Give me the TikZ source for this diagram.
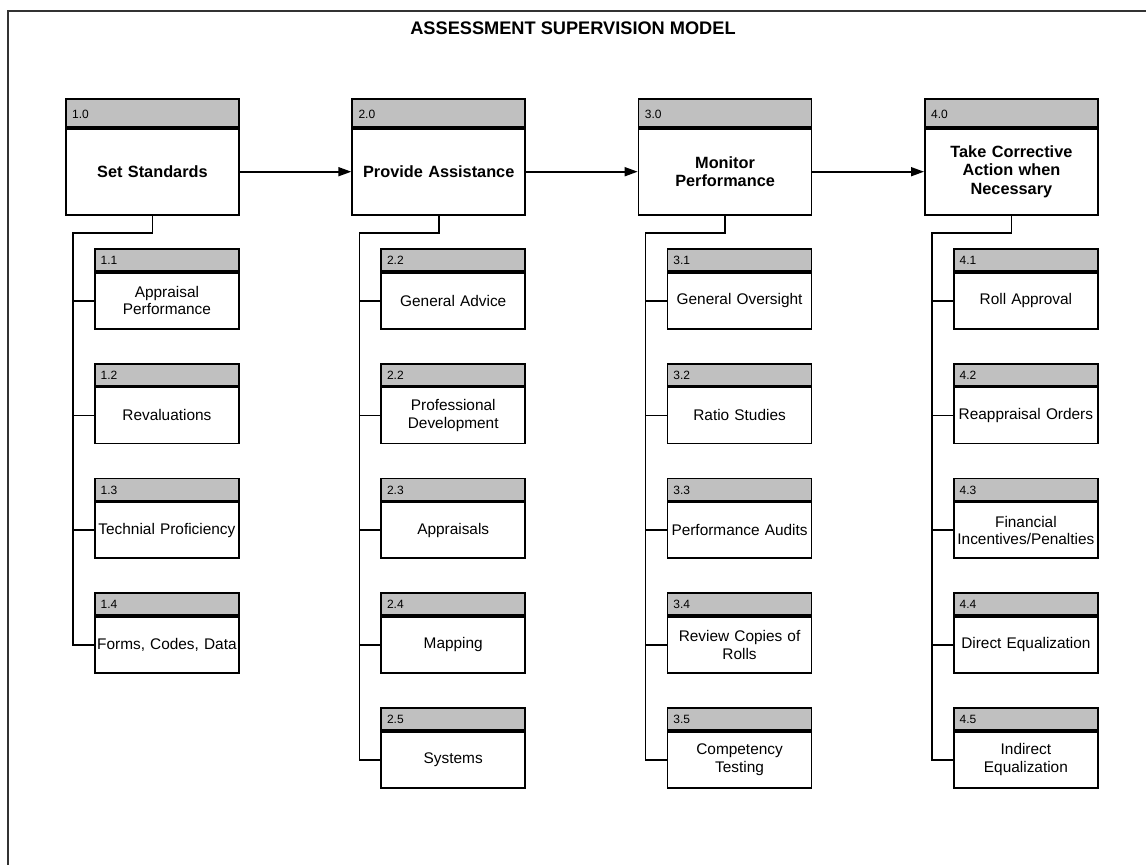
\documentclass[tikz,border=0pt]{standalone}
\usepackage{fontspec}
\setmainfont{Liberation Sans}
\usetikzlibrary{arrows.meta}
\definecolor{headgray}{HTML}{C0C0C0}
\definecolor{framegray}{HTML}{333333}
\tikzset{
  mainhdr/.style={draw=black,line width=1.8pt,fill=headgray,rectangle,inner sep=0pt,minimum width=173pt,minimum height=28pt,anchor=north west},
  mainbody/.style={draw=black,line width=1.8pt,fill=white,rectangle,inner sep=0pt,minimum width=173pt,minimum height=86pt,anchor=north,align=center,text width=165pt,font=\bfseries\fontsize{16.3}{18.6}\selectfont},
  chhdr/.style={draw=black,line width=1.8pt,fill=headgray,rectangle,inner sep=0pt,minimum width=144pt,minimum height=22pt,anchor=north west},
  chbody/.style={draw=black,line width=1.8pt,fill=white,rectangle,inner sep=0pt,minimum width=144pt,minimum height=56pt,anchor=north,align=center,text width=141pt,font=\fontsize{15.4}{17.4}\selectfont},
  numlbl/.style={inner sep=0pt,anchor=west,font=\fontsize{12}{14}\selectfont},
  conn/.style={draw=black,line width=1.6pt},
  arr/.style={draw=black,line width=1.6pt,-{Triangle[length=13pt,width=9pt]}},
  frameline/.style={draw=framegray,line width=2pt},
}
\newcommand{\mainbox}[4]{%
  \node[mainhdr] (#1h) at (#2,98) {};
  \node[numlbl] (#1n) at ([xshift=7pt,yshift=-1pt]#1h.west) {#3};
  \node[mainbody] (#1) at (#1h.south) {#4};
}
\newcommand{\childbox}[5]{%
  \node[chhdr] (#1h) at (#2,#3) {};
  \node[numlbl] (#1n) at ([xshift=6.5pt,yshift=-0.5pt]#1h.west) {#4};
  \node[chbody] (#1) at (#1h.south) {#5};
}
\begin{document}
\begin{tikzpicture}[x=1pt,y=-1pt]
\useasboundingbox (0,0) rectangle (1146,865);
\draw[frameline] (1146,10.5) -- (7.5,10.5) -- (7.5,865);
\node[font=\bfseries\fontsize{18.2}{20}\selectfont,inner sep=0pt] (title) at (573,28) {ASSESSMENT SUPERVISION MODEL};

% main boxes
\mainbox{b1}{65}{1.0}{Set Standards}
\mainbox{b2}{351.33}{2.0}{Provide Assistance}
\mainbox{b3}{637.67}{3.0}{Monitor\\Performance}
\mainbox{b4}{924}{4.0}{Take Corrective\\Action when\\Necessary}

% column 1
\childbox{c11}{94}{248}{1.1}{Appraisal\\Performance}
\childbox{c12}{94}{362.75}{1.2}{Revaluations}
\childbox{c13}{94}{477.5}{1.3}{Technial Proficiency}
\childbox{c14}{94}{592.25}{1.4}{Forms, Codes, Data}

% column 2
\childbox{c21}{380.33}{248}{2.2}{General Advice}
\childbox{c22}{380.33}{362.75}{2.2}{Professional\\Development}
\childbox{c23}{380.33}{477.5}{2.3}{Appraisals}
\childbox{c24}{380.33}{592.25}{2.4}{Mapping}
\childbox{c25}{380.33}{707}{2.5}{Systems}

% column 3
\childbox{c31}{666.67}{248}{3.1}{General Oversight}
\childbox{c32}{666.67}{362.75}{3.2}{Ratio Studies}
\childbox{c33}{666.67}{477.5}{3.3}{Performance Audits}
\childbox{c34}{666.67}{592.25}{3.4}{Review Copies of\\Rolls}
\childbox{c35}{666.67}{707}{3.5}{Competency\\Testing}

% column 4
\childbox{c41}{953}{248}{4.1}{Roll Approval}
\childbox{c42}{953}{362.75}{4.2}{Reappraisal Orders}
\childbox{c43}{953}{477.5}{4.3}{Financial\\Incentives/Penalties}
\childbox{c44}{953}{592.25}{4.4}{Direct Equalization}
\childbox{c45}{953}{707}{4.5}{Indirect\\Equalization}

% arrows between main boxes
\draw[arr] (b1.east) -- (b2.west);
\draw[arr] (b2.east) -- (b3.west);
\draw[arr] (b3.east) -- (b4.west);

% trees
\coordinate (t1) at (73,233);
\coordinate (t2) at (359.33,233);
\coordinate (t3) at (645.67,233);
\coordinate (t4) at (932,233);

\draw[conn] (b1.south) |- (t1) |- (c14.west);
\foreach \c in {c11,c12,c13} \draw[conn] (t1 |- \c.west) -- (\c.west);

\draw[conn] (b2.south) |- (t2) |- (c25.west);
\foreach \c in {c21,c22,c23,c24} \draw[conn] (t2 |- \c.west) -- (\c.west);

\draw[conn] (b3.south) |- (t3) |- (c35.west);
\foreach \c in {c31,c32,c33,c34} \draw[conn] (t3 |- \c.west) -- (\c.west);

\draw[conn] (b4.south) |- (t4) |- (c45.west);
\foreach \c in {c41,c42,c43,c44} \draw[conn] (t4 |- \c.west) -- (\c.west);
\end{tikzpicture}
\end{document}
